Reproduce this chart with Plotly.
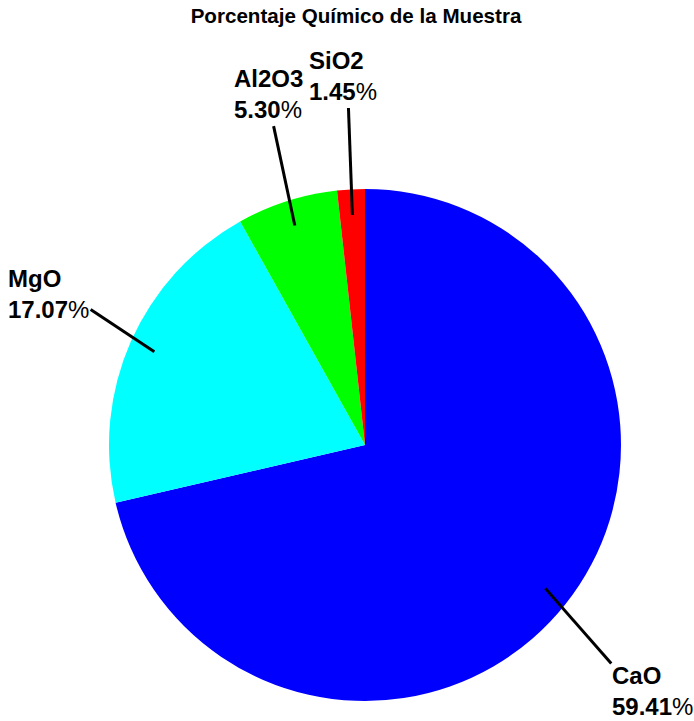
import math
import plotly.graph_objects as go

# Composición química de la muestra (% en peso)
compuestos = ["CaO", "MgO", "Al2O3", "SiO2"]
porcentajes = [59.41, 17.07, 5.30, 1.45]
colores = ["#0000FF", "#00FFFF", "#00FF00", "#FF0000"]
titulo = "Porcentaje Químico de la Muestra"

# Page geometry (pixels)
W, H = 694, 721
CX, CY, R = 365, 445, 256          # pie centre and radius
LX, LY = 242, 270                  # half-axes of the ellipse the labels sit around
LINE_IN = 0.9                      # leader line start, fraction of pie radius
LINE_OUT = [1.30, 1.24, 1.24, 1.25]  # leader line end, per slice, on the label ellipse
FONT = "Liberation Sans, Arial, sans-serif"
LABEL_SIZE = 24

fig = go.Figure(
    go.Pie(
        labels=compuestos,
        values=porcentajes,
        marker=dict(colors=colores, line=dict(width=0)),
        sort=False,
        direction="clockwise",
        rotation=0,
        textinfo="none",
        hoverinfo="label+value",
        showlegend=False,
        domain=dict(x=[(CX - R) / W, (CX + R) / W],
                    y=[(H - CY - R) / H, (H - CY + R) / H]),
    )
)

def to_paper(px, py):
    return px / W, 1 - py / H

total = sum(porcentajes)
acum = 0.0
for nombre, valor, fout in zip(compuestos, porcentajes, LINE_OUT):
    mid = (acum + valor / 2) / total * 2 * math.pi
    acum += valor
    dx, dy = math.sin(mid), math.cos(mid)

    x0, y0 = to_paper(CX + LINE_IN * R * dx, CY - LINE_IN * R * dy)
    x1, y1 = to_paper(CX + fout * LX * dx, CY - fout * LY * dy)
    fig.add_shape(type="line", xref="paper", yref="paper",
                  x0=x0, y0=y0, x1=x1, y1=y1,
                  line=dict(color="black", width=3))

    # label placement depends on which side of the pie the slice points to
    if dx > 0.5:
        xanchor, xshift = "left", -1
    elif dx < -0.5:
        xanchor, xshift = "right", 0
    else:
        xanchor, xshift = "center", -5
    if dy < -0.5:
        yanchor, yshift = "top", 3
    elif dy > 0.5:
        yanchor, yshift = "bottom", 1
    else:
        yanchor, yshift = "middle", 15

    fig.add_annotation(
        xref="paper", yref="paper", x=x1, y=y1,
        text=f"<b>{nombre}</b><br><b>{valor:.2f}</b>%",
        showarrow=False, align="left",
        xanchor=xanchor, yanchor=yanchor, xshift=xshift, yshift=yshift,
        font=dict(family=FONT, size=LABEL_SIZE, color="black"),
    )

fig.update_layout(
    width=W, height=H,
    margin=dict(l=0, r=0, t=0, b=0),
    paper_bgcolor="white", plot_bgcolor="white",
    title=dict(text=f"<b>{titulo}</b>", x=356 / W, xanchor="center",
               xref="paper", y=1 - 9 / H, yanchor="top", yref="container",
               font=dict(family=FONT, size=20.6, color="black")),
)

fig.write_html("out.html")
